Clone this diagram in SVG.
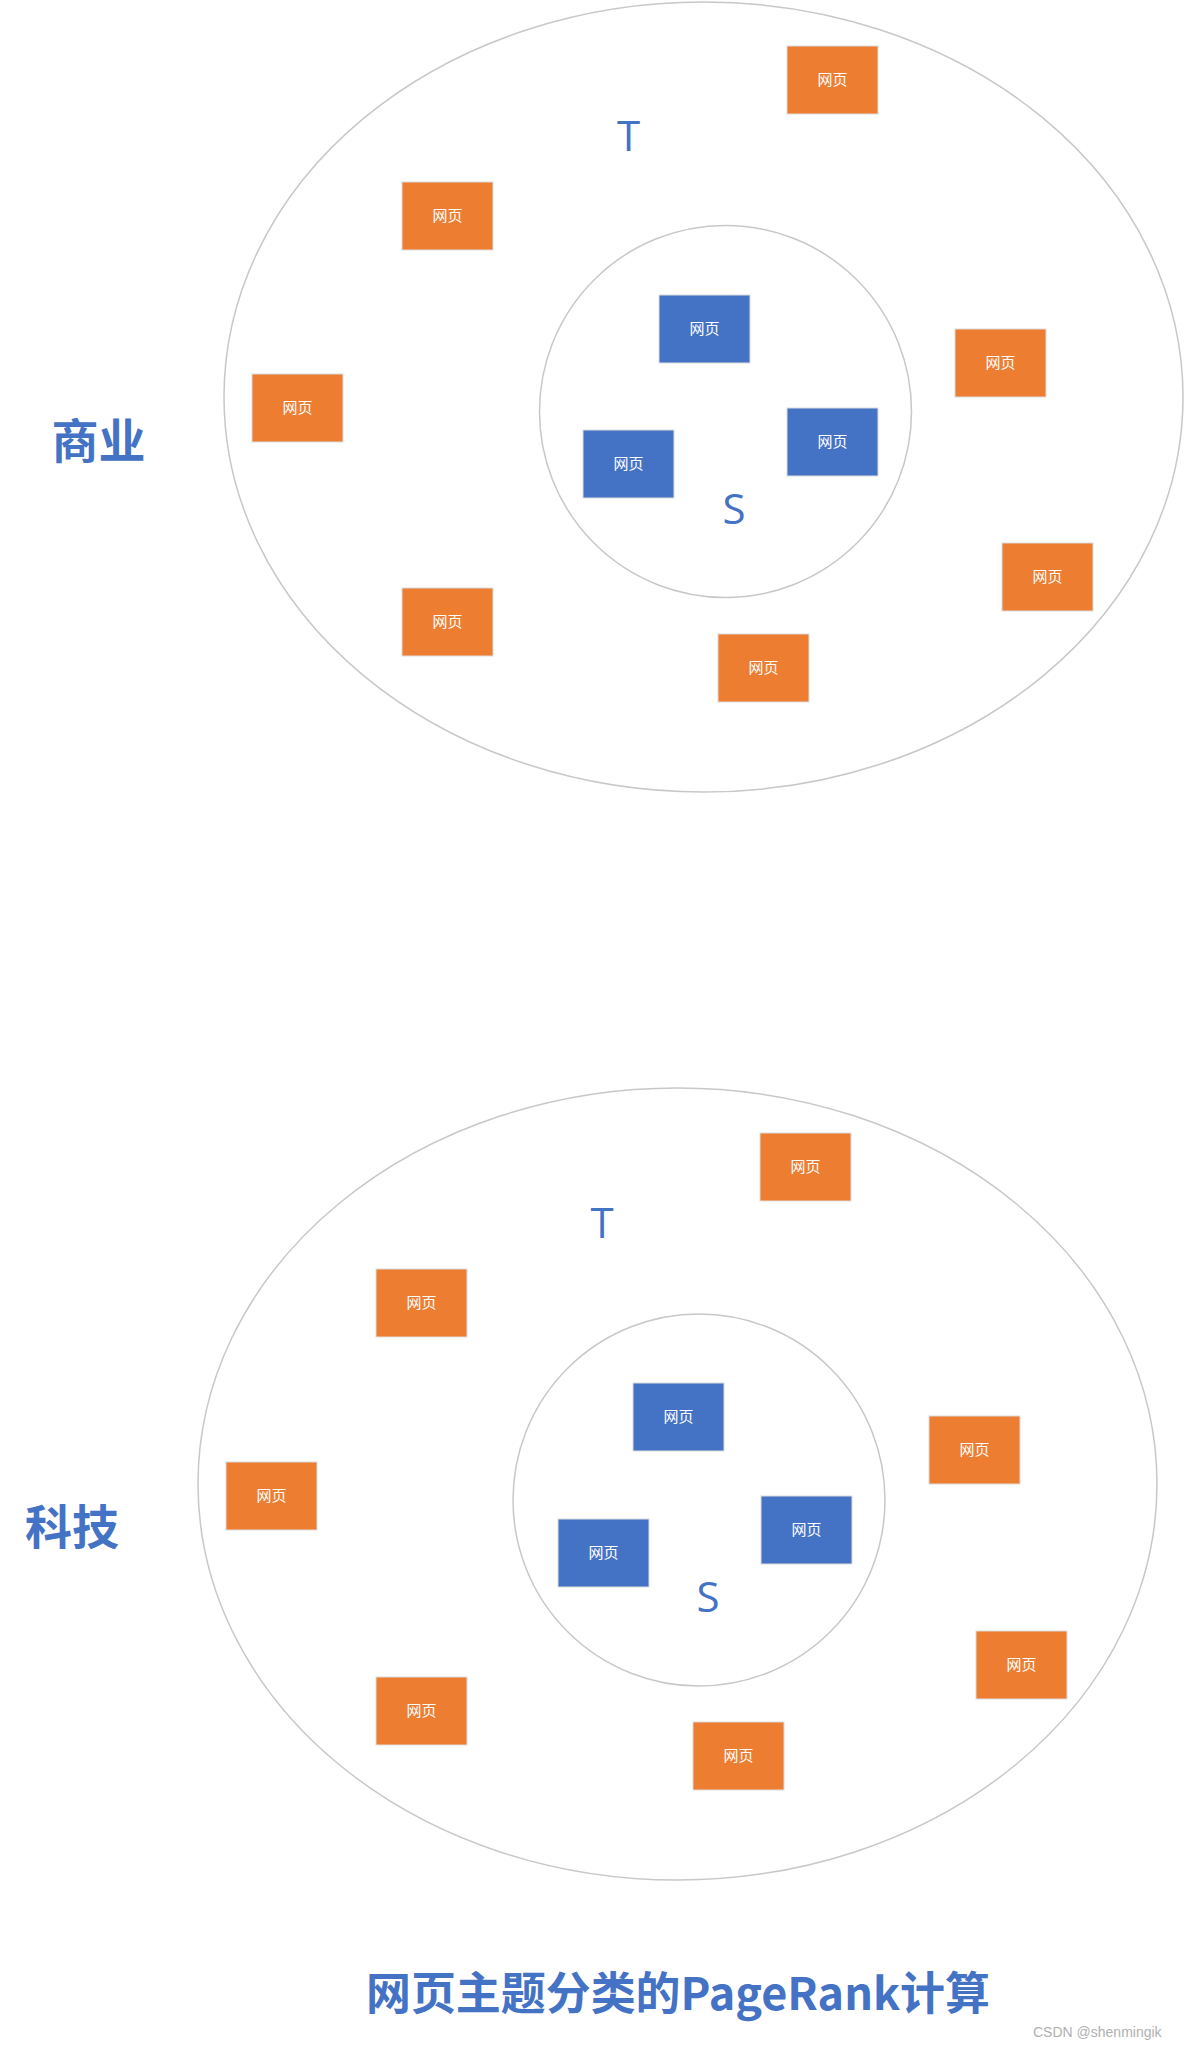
<svg xmlns="http://www.w3.org/2000/svg" width="1184" height="2046" viewBox="0 0 1184 2046">
<style>
.ring{fill:none;stroke:#c8c8c8;stroke-width:1.5}
.o{fill:#ED7D31;stroke:#dcdcdc;stroke-width:1}
.b{fill:#4472C4;stroke:#dcdcdc;stroke-width:1}
.bt{fill:#ffffff;font-family:"Noto Sans CJK SC","Noto Sans",sans-serif;font-size:15px;text-anchor:middle}
.lt{fill:#4472C4;font-family:"Open Sans","Noto Sans",sans-serif;font-size:42px;text-anchor:middle}
.cat{fill:#4472C4;font-family:"Noto Sans CJK SC",sans-serif;font-size:47px;font-weight:bold;text-anchor:middle}
.title{fill:#4472C4;font-family:"Noto Sans CJK SC",sans-serif;font-size:45px;font-weight:bold}
.wm{fill:#b0b0b0;font-family:"Liberation Sans",sans-serif;font-size:14px}
</style>
<rect width="1184" height="2046" fill="#ffffff"/>

<!-- Top: 商业 -->
<g id="top-T-set"><ellipse class="ring" cx="703.5" cy="397" rx="479.5" ry="395"/></g>
<g id="top-S-set"><circle class="ring" cx="725.5" cy="411.5" r="186"/></g>
<g id="top-label-T"><text class="lt" x="628.5" y="151">T</text></g>
<g id="top-label-S"><text class="lt" x="734" y="524">S</text></g>
<g id="top-category"><text class="cat" x="98.5" y="458">商业</text></g>

<g id="top-o1"><rect class="o" x="787" y="46" width="91" height="68"/><text class="bt" x="832.5" y="85">网页</text></g>
<g id="top-o2"><rect class="o" x="402" y="182" width="91" height="68"/><text class="bt" x="447.5" y="221">网页</text></g>
<g id="top-o3"><rect class="o" x="252" y="374" width="91" height="68"/><text class="bt" x="297.5" y="413">网页</text></g>
<g id="top-o4"><rect class="o" x="955" y="329" width="91" height="68"/><text class="bt" x="1000.5" y="368">网页</text></g>
<g id="top-o5"><rect class="o" x="1002" y="543" width="91" height="68"/><text class="bt" x="1047.5" y="582">网页</text></g>
<g id="top-o6"><rect class="o" x="402" y="588" width="91" height="68"/><text class="bt" x="447.5" y="627">网页</text></g>
<g id="top-o7"><rect class="o" x="718" y="634" width="91" height="68"/><text class="bt" x="763.5" y="673">网页</text></g>
<g id="top-b1"><rect class="b" x="659" y="295" width="91" height="68"/><text class="bt" x="704.5" y="334">网页</text></g>
<g id="top-b2"><rect class="b" x="583" y="430" width="91" height="68"/><text class="bt" x="628.5" y="469">网页</text></g>
<g id="top-b3"><rect class="b" x="787" y="408" width="91" height="68"/><text class="bt" x="832.5" y="447">网页</text></g>

<!-- Bottom: 科技 -->
<g id="bottom-T-set"><ellipse class="ring" cx="677.5" cy="1484" rx="479.5" ry="396"/></g>
<g id="bottom-S-set"><circle class="ring" cx="699" cy="1500" r="186"/></g>
<g id="bottom-label-T"><text class="lt" x="602" y="1238">T</text></g>
<g id="bottom-label-S"><text class="lt" x="708" y="1612">S</text></g>
<g id="bottom-category"><text class="cat" x="72" y="1544">科技</text></g>

<g id="bot-o1"><rect class="o" x="760" y="1133" width="91" height="68"/><text class="bt" x="805.5" y="1172">网页</text></g>
<g id="bot-o2"><rect class="o" x="376" y="1269" width="91" height="68"/><text class="bt" x="421.5" y="1308">网页</text></g>
<g id="bot-o3"><rect class="o" x="226" y="1462" width="91" height="68"/><text class="bt" x="271.5" y="1501">网页</text></g>
<g id="bot-o4"><rect class="o" x="929" y="1416" width="91" height="68"/><text class="bt" x="974.5" y="1455">网页</text></g>
<g id="bot-o5"><rect class="o" x="976" y="1631" width="91" height="68"/><text class="bt" x="1021.5" y="1670">网页</text></g>
<g id="bot-o6"><rect class="o" x="376" y="1677" width="91" height="68"/><text class="bt" x="421.5" y="1716">网页</text></g>
<g id="bot-o7"><rect class="o" x="693" y="1722" width="91" height="68"/><text class="bt" x="738.5" y="1761">网页</text></g>
<g id="bot-b1"><rect class="b" x="633" y="1383" width="91" height="68"/><text class="bt" x="678.5" y="1422">网页</text></g>
<g id="bot-b2"><rect class="b" x="558" y="1519" width="91" height="68"/><text class="bt" x="603.5" y="1558">网页</text></g>
<g id="bot-b3"><rect class="b" x="761" y="1496" width="91" height="68"/><text class="bt" x="806.5" y="1535">网页</text></g>

<g id="connectors"></g>

<g id="title"><text class="title" x="366" y="2010" textLength="624" lengthAdjust="spacingAndGlyphs">网页主题分类的PageRank计算</text></g>
<g id="watermark"><text class="wm" x="1033" y="2037">CSDN @shenmingik</text></g>
</svg>
